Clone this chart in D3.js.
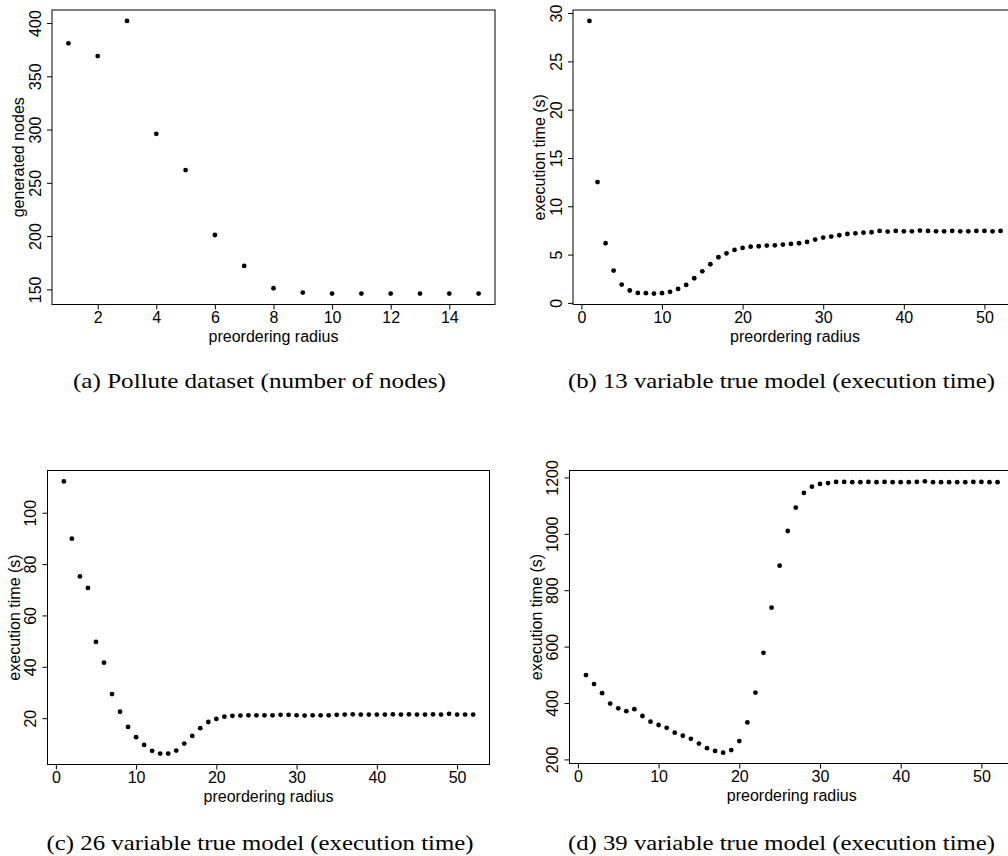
<!DOCTYPE html>
<html>
<head>
<meta charset="utf-8">
<script src="https://cdn.jsdelivr.net/npm/d3@7/dist/d3.min.js"></script>
<style>
  body { margin: 0; background: #fff; }
  svg { display: block; }
  .axis text { font-family: "Liberation Sans", Arial, Helvetica, sans-serif; font-size: 16px; fill: #000; }
  .axis line { stroke: #000; }
  .title { font-family: "Liberation Sans", Arial, Helvetica, sans-serif; font-size: 16px; fill: #000; }
  .caption { font-family: "Liberation Serif", "DejaVu Serif", serif; font-size: 21px; fill: #000; }
</style>
</head>
<body>
<svg id="chart" width="1008" height="856"></svg>
<script>

// (a) pollute dataset, radius 1..15
const radiusShort = [1, 2, 3, 4, 5, 6, 7, 8, 9, 10, 11, 12, 13, 14, 15];
const nodesPollute = [381, 369, 402, 296, 262, 201, 172, 151, 147, 146, 146, 146, 146, 146, 146];

// (b)(c)(d) true models, radius 1..52
const radiusLong = [1, 2, 3, 4, 5, 6, 7, 8, 9, 10, 11, 12, 13, 14, 15, 16, 17, 18, 19, 20,
  21, 22, 23, 24, 25, 26, 27, 28, 29, 30, 31, 32, 33, 34, 35, 36, 37, 38, 39, 40,
  41, 42, 43, 44, 45, 46, 47, 48, 49, 50, 51, 52];

const time13 = [29.19, 12.51, 6.17, 3.34, 1.89, 1.28, 1.03, 1.00, 0.96, 1.00,
  1.14, 1.44, 1.86, 2.55, 3.27, 4.00, 4.72, 5.13, 5.48, 5.69,
  5.82, 5.86, 5.93, 5.96, 6.03, 6.10, 6.17, 6.31, 6.55, 6.76,
  6.86, 7.00, 7.13, 7.20, 7.27, 7.31, 7.45, 7.38, 7.45, 7.41,
  7.41, 7.48, 7.45, 7.41, 7.41, 7.45, 7.41, 7.41, 7.45, 7.45, 7.41, 7.45];

const time26 = [112.2, 89.9, 75.2, 70.7, 49.7, 41.6, 29.4, 22.5, 16.6, 12.6,
  9.6, 7.3, 6.2, 6.2, 7.4, 10.1, 13.1, 16.1, 18.5, 19.7,
  20.6, 20.9, 21.0, 21.1, 21.1, 21.1, 21.1, 21.3, 21.3, 21.1,
  21.0, 21.1, 21.1, 21.1, 21.3, 21.4, 21.5, 21.4, 21.4, 21.4,
  21.4, 21.5, 21.4, 21.5, 21.4, 21.4, 21.5, 21.4, 21.7, 21.4, 21.4, 21.4];

const time39 = [499, 467, 435, 398, 381, 371, 378, 354, 334, 322,
  312, 295, 284, 273, 256, 240, 230, 224, 233, 265,
  331, 437, 578, 738, 887, 1010, 1093, 1145, 1167, 1177,
  1180, 1184, 1184, 1183, 1183, 1184, 1183, 1184, 1183, 1183,
  1183, 1184, 1186, 1183, 1183, 1183, 1183, 1183, 1184, 1184, 1183, 1183];

// tick labels
const xTicksShort = [2, 4, 6, 8, 10, 12, 14];
const xTicksLong = [0, 10, 20, 30, 40, 50];
const yTicksA = [150, 200, 250, 300, 350, 400];
const yTicksB = [0, 5, 10, 15, 20, 25, 30];
const yTicksC = [20, 40, 60, 80, 100];
const yTicksD = [200, 400, 600, 800, 1000, 1200];

// text
const xTitle = 'preordering radius';
const yTitles = ['generated nodes', 'execution time (s)', 'execution time (s)', 'execution time (s)'];
const captions = [
  '(a) Pollute dataset (number of nodes)',
  '(b) 13 variable true model (execution time)',
  '(c) 26 variable true model (execution time)',
  '(d) 39 variable true model (execution time)'
];

const svg = d3.select('#chart');

// plot boxes (page pixels); b and d run off the right edge like the original
const panels = [
  { xs: radiusShort, ys: nodesPollute, xTicks: xTicksShort, yTicks: yTicksA,
    left: 52, right: 495, top: 10, bottom: 304.5, yTitle: yTitles[0],
    caption: captions[0], capX: 259.5, capY: 388, capW: 373 },
  { xs: radiusLong, ys: time13, xTicks: xTicksLong, yTicks: yTicksB,
    left: 573, right: 1017, top: 10, bottom: 304.5, yTitle: yTitles[1],
    caption: captions[1], capX: 781.5, capY: 388, capW: 427 },
  { xs: radiusLong, ys: time26, xTicks: xTicksLong, yTicks: yTicksC,
    left: 47.5, right: 489.5, top: 470.5, bottom: 764.5, yTitle: yTitles[2],
    caption: captions[2], capX: 260, capY: 850, capW: 427 },
  { xs: radiusLong, ys: time39, xTicks: xTicksLong, yTicks: yTicksD,
    left: 569.5, right: 1014, top: 470.5, bottom: 763.5, yTitle: yTitles[3],
    caption: captions[3], capX: 781.5, capY: 850, capW: 427 }
];

// R style 4% padding on each side of the data range
function pad(ext) {
  const d = (ext[1] - ext[0]) * 0.04;
  return [ext[0] - d, ext[1] + d];
}

panels.forEach(p => {
  const g = svg.append('g');

  const x = d3.scaleLinear()
    .domain(pad(d3.extent(p.xs)))
    .range([p.left, p.right]);

  const y = d3.scaleLinear()
    .domain(pad(d3.extent(p.ys)))
    .range([p.bottom, p.top]);

  // x axis
  g.append('g')
    .attr('class', 'axis')
    .attr('transform', `translate(0,${p.bottom})`)
    .call(d3.axisBottom(x).tickValues(p.xTicks).tickFormat(d3.format('d'))
      .tickSize(5).tickSizeOuter(0).tickPadding(2))
    .call(a => a.select('.domain').remove());

  // y axis, labels turned parallel to the axis
  g.append('g')
    .attr('class', 'axis')
    .attr('transform', `translate(${p.left},0)`)
    .call(d3.axisLeft(y).tickValues(p.yTicks).tickFormat(d3.format('d'))
      .tickSize(5).tickSizeOuter(0))
    .call(a => a.select('.domain').remove())
    .selectAll('text')
    .attr('x', null)
    .attr('dy', null)
    .attr('text-anchor', 'middle')
    .attr('transform', 'translate(-11.5,0) rotate(-90)');

  // frame
  g.append('rect')
    .attr('x', p.left)
    .attr('y', p.top)
    .attr('width', p.right - p.left)
    .attr('height', p.bottom - p.top)
    .attr('fill', 'none')
    .attr('stroke', '#000')
    .attr('stroke-width', 1);

  // points
  g.selectAll('circle')
    .data(p.xs.map((r, i) => ({ r: r, v: p.ys[i] })))
    .enter()
    .append('circle')
    .attr('cx', d => x(d.r))
    .attr('cy', d => y(d.v))
    .attr('r', 2.4)
    .attr('fill', '#000');

  // axis titles
  g.append('text')
    .attr('class', 'title')
    .attr('x', (p.left + p.right) / 2)
    .attr('y', p.bottom + 37)
    .attr('text-anchor', 'middle')
    .text(xTitle);

  g.append('text')
    .attr('class', 'title')
    .attr('transform', `translate(${p.left - 28},${(p.top + p.bottom) / 2}) rotate(-90)`)
    .attr('text-anchor', 'middle')
    .text(p.yTitle);

  // sub-figure caption
  g.append('text')
    .attr('class', 'caption')
    .attr('x', p.capX - p.capW / 2)
    .attr('y', p.capY)
    .attr('textLength', p.capW)
    .attr('lengthAdjust', 'spacingAndGlyphs')
    .text(p.caption);
});
</script>
</body>
</html>
